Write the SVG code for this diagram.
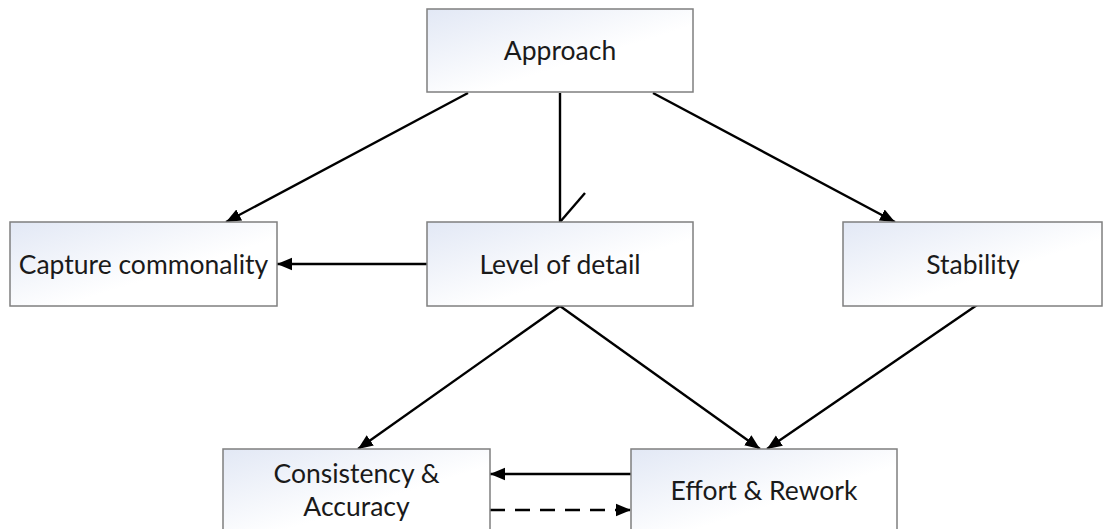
<svg xmlns="http://www.w3.org/2000/svg" width="1103" height="529" viewBox="0 0 1103 529">
  <style>
    .box { stroke: #7f7f7f; stroke-width: 1.5; fill: url(#g); }
    .lbl { font-family: Lato, "Open Sans", "Liberation Sans", sans-serif; font-size: 26.5px; fill: #1a1a1a; text-anchor: middle; }
    .c { stroke: #000; stroke-width: 2.4; fill: none; }
    .dash { stroke-dasharray: 15 10; }
  </style>
  <defs>
    <linearGradient id="g" x1="0" y1="0" x2="1" y2="1">
      <stop offset="0" stop-color="#e2e8f5"/>
      <stop offset="0.6" stop-color="#ffffff"/>
      <stop offset="1" stop-color="#ffffff"/>
    </linearGradient>
    <marker id="ah" markerUnits="userSpaceOnUse" markerWidth="16" markerHeight="14" refX="15" refY="7" orient="auto">
      <path d="M0,0.8 L15,7 L0,13.2 z" fill="#000"/>
    </marker>
  </defs>
  <rect width="1103" height="529" fill="#ffffff"/>

  <g id="connectors">
    <line class="c" x1="468" y1="93" x2="226" y2="222" marker-end="url(#ah)"/>
    <line class="c" x1="560" y1="93" x2="560" y2="222"/>
    <line class="c" x1="560" y1="222" x2="585" y2="193"/>
    <line class="c" x1="653" y1="93" x2="895" y2="222" marker-end="url(#ah)"/>
    <line class="c" x1="427" y1="264" x2="277" y2="264" marker-end="url(#ah)"/>
    <line class="c" x1="560" y1="306" x2="358" y2="449" marker-end="url(#ah)"/>
    <line class="c" x1="560" y1="306" x2="760" y2="449" marker-end="url(#ah)"/>
    <line class="c" x1="977" y1="305" x2="767" y2="449" marker-end="url(#ah)"/>
    <line class="c" x1="631" y1="474" x2="490" y2="474" marker-end="url(#ah)"/>
    <line class="c dash" x1="490" y1="510" x2="631" y2="510" marker-end="url(#ah)"/>
  </g>

  <g id="approach">
    <rect class="box" x="427" y="9" width="266" height="83"/>
    <text class="lbl" x="560" y="60">Approach</text>
  </g>
  <g id="capture">
    <rect class="box" x="10" y="222" width="267" height="84"/>
    <text class="lbl" x="143.5" y="274">Capture commonality</text>
  </g>
  <g id="level">
    <rect class="box" x="427" y="222" width="266" height="84"/>
    <text class="lbl" x="560" y="274">Level of detail</text>
  </g>
  <g id="stability">
    <rect class="box" x="843" y="222" width="259" height="84"/>
    <text class="lbl" x="973" y="274">Stability</text>
  </g>
  <g id="consistency">
    <rect class="box" x="223" y="449" width="267" height="84"/>
    <text class="lbl" x="356.5" y="483">Consistency &amp;</text>
    <text class="lbl" x="356.5" y="516">Accuracy</text>
  </g>
  <g id="effort">
    <rect class="box" x="631" y="449" width="266" height="84"/>
    <text class="lbl" x="764" y="500">Effort &amp; Rework</text>
  </g>
</svg>
